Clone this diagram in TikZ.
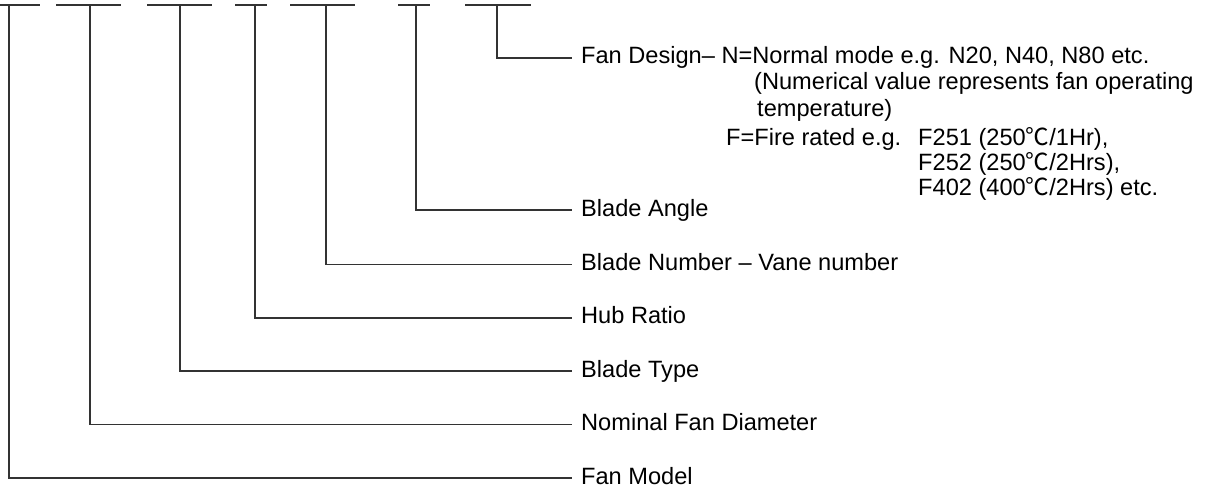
\documentclass[tikz,border=0pt]{standalone}
\usepackage{fontspec}
\setmainfont{Liberation Sans}
\newfontfamily\cjk{Noto Sans CJK SC}
\newcommand{\degC}{{\cjk ℃}}
\begin{document}
\begin{tikzpicture}[x=1pt,y=-1pt,
  ln/.style={draw=black!80, line width=1.6pt},
  lbl/.style={anchor=base west, inner sep=0pt, font=\fontsize{23.6}{28}\selectfont}]
\useasboundingbox (0,0) rectangle (1210,491);
% top dashes
\foreach \i/\a/\b in {1/0/40, 2/56/121, 3/147/212, 4/235/267, 5/290/355, 6/398/430, 7/465/531}{
  \coordinate (da\i) at (\a,5);
  \coordinate (db\i) at (\b,5);
  \draw[ln] (da\i) -- (db\i);
}
% stems
\coordinate (t1) at (9,5);
\coordinate (t2) at (90,5);
\coordinate (t3) at (180,5);
\coordinate (t4) at (255,5);
\coordinate (t5) at (326,5);
\coordinate (t6) at (416,5);
\coordinate (t7) at (497,5);
% ends
\coordinate (e1) at (572,478);
\coordinate (e2) at (572,424.6);
\coordinate (e3) at (572,371.2);
\coordinate (e4) at (572,317.8);
\coordinate (e5) at (572,264.4);
\coordinate (e6) at (572,210);
\coordinate (e7) at (572,58);
% labels
\node[lbl] (l1) at (581,484) {Fan Model};
\node[lbl] (l2) at (581,430.6) {Nominal Fan Diameter};
\node[lbl] (l3) at (581,377.2) {Blade Type};
\node[lbl] (l4) at (581,323.8) {Hub Ratio};
\node[lbl] (l5) at (581,270.4) {Blade Number – Vane number};
\node[lbl] (l6) at (581,216) {Blade Angle};
\node[lbl] (l7) at (581,63) {Fan Design– N=Normal mode e.g. N20, N40, N80 etc.};
\node[lbl] (l7b) at (754,89) {(Numerical value represents fan operating};
\node[lbl] (l7c) at (757,116) {temperature)};
\node[lbl] (l7d) at (726,145) {F=Fire rated e.g.};
\node[lbl] (l7g) at (918,145) {F251 (250\degC/1Hr),};
\node[lbl] (l7e) at (918,170) {F252 (250\degC/2Hrs),};
\node[lbl] (l7f) at (918,195) {F402 (400\degC/2Hrs) etc.};
% connectors
\foreach \i in {1,...,7}{
  \draw[ln] (t\i) |- (e\i);
}
\end{tikzpicture}
\end{document}
